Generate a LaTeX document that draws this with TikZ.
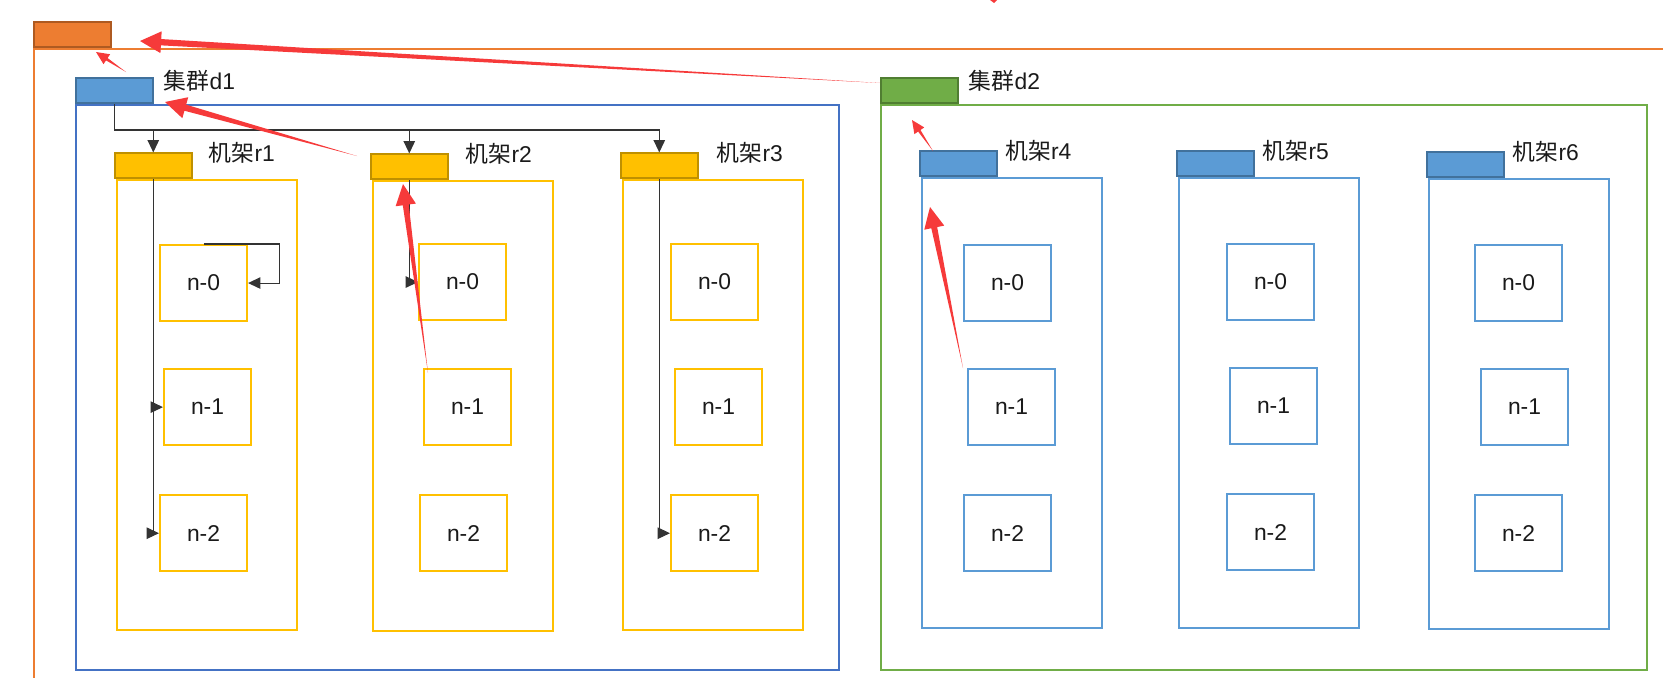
\documentclass[tikz,border=0pt]{standalone}
\usepackage{fontspec}
\setmainfont{Liberation Sans}
\newfontfamily\cjk{Noto Sans CJK SC}
\usetikzlibrary{arrows.meta,positioning,calc}

\definecolor{txt}{HTML}{1A1A1A}
\definecolor{orgfill}{HTML}{ED7D31}
\definecolor{orgdark}{HTML}{AE5A21}
\definecolor{bluefill}{HTML}{5B9BD5}
\definecolor{bluedark}{HTML}{41719C}
\definecolor{dline}{HTML}{4472C4}
\definecolor{yelfill}{HTML}{FFC000}
\definecolor{yeldark}{HTML}{BF9000}
\definecolor{grnfill}{HTML}{70AD47}
\definecolor{grndark}{HTML}{507E32}
\definecolor{annot}{RGB}{246,58,58}

% tapered red pointer: tail, tip, head length, head half width, shaft half width
\newcommand{\redarrow}[5]{%
  \coordinate (hb) at ($(#2)!#3!(#1)$);
  \fill[annot] (#1) -- ($(hb)!#5!90:(#2)$) -- ($(hb)!#4!90:(#2)$) -- (#2)
    -- ($(hb)!#4!-90:(#2)$) -- ($(hb)!#5!-90:(#2)$) -- cycle;}

\begin{document}
\begin{tikzpicture}[x=0.02cm,y=-0.02cm,
  font=\fontsize{13}{15}\selectfont,
  tab/.style={draw,line width=0.9pt,minimum width=1.54cm,minimum height=0.5cm,
              inner sep=0pt,anchor=south west},
  clusbox/.style={draw=#1,line width=1.2pt,minimum height=11.3cm,
                  inner sep=0pt,anchor=north west},
  rackbox/.style={draw=#1,line width=1.2pt,minimum width=3.6cm,minimum height=9cm,
                  inner sep=0pt,anchor=north west},
  srv/.style={draw=#1,line width=1.2pt,minimum width=1.74cm,minimum height=1.52cm,
              inner sep=0pt,text=txt},
  lab/.style={inner sep=0pt,text=txt},
  flow/.style={draw=black!80,line width=0.6pt,-{Triangle[length=7pt,width=6.5pt]}}
]
\clip (0,0) rectangle (1663,677);

% root
\node[draw=orgfill,line width=1.2pt,minimum width=33cm,minimum height=13cm,
      inner sep=0pt,anchor=north west] (root) at (33,48) {};
\node[tab,fill=orgfill,draw=orgdark] (roottab) at (root.north west) {};

% cluster d1
\node[clusbox=dline,minimum width=15.26cm] (d1box) at (75,104) {};
\node[tab,fill=bluefill,draw=bluedark] (d1tab) at (d1box.north west) {};
\node[lab,right=0.2cm of d1tab.north east,yshift=-0.06cm] (d1lab) {{\cjk 集群}d1};

\node[rackbox=yelfill] (r1box) at (116,179) {};
\node[tab,fill=yelfill,draw=yeldark] (r1tab) at ([xshift=-0.04cm]r1box.north west) {};
\node[lab,right=0.32cm of r1tab.north east] (r1lab) {{\cjk 机架}r1};
\node[srv=yelfill,below right=1.3cm and 0.86cm of r1box.north west] (r1n0) {n-0};
\node[srv=yelfill,below=0.92cm of r1n0,xshift=0.08cm] (r1n1) {n-1};
\node[srv=yelfill,below=0.96cm of r1n1,xshift=-0.08cm] (r1n2) {n-2};

\node[rackbox=yelfill] (r2box) at (372,180) {};
\node[tab,fill=yelfill,draw=yeldark] (r2tab) at ([xshift=-0.04cm]r2box.north west) {};
\node[lab,right=0.34cm of r2tab.north east] (r2lab) {{\cjk 机架}r2};
\node[srv=yelfill,below right=1.26cm and 0.92cm of r2box.north west] (r2n0) {n-0};
\node[srv=yelfill,below=0.94cm of r2n0,xshift=0.1cm] (r2n1) {n-1};
\node[srv=yelfill,below=0.96cm of r2n1,xshift=-0.08cm] (r2n2) {n-2};

\node[rackbox=yelfill] (r3box) at (622,179) {};
\node[tab,fill=yelfill,draw=yeldark] (r3tab) at ([xshift=-0.04cm]r3box.north west) {};
\node[lab,right=0.36cm of r3tab.north east] (r3lab) {{\cjk 机架}r3};
\node[srv=yelfill,below right=1.28cm and 0.96cm of r3box.north west] (r3n0) {n-0};
\node[srv=yelfill,below=0.94cm of r3n0,xshift=0.08cm] (r3n1) {n-1};
\node[srv=yelfill,below=0.96cm of r3n1,xshift=-0.08cm] (r3n2) {n-2};

% cluster d2
\node[clusbox=grnfill,minimum width=15.32cm] (d2box) at (880,104) {};
\node[tab,fill=grnfill,draw=grndark] (d2tab) at (d2box.north west) {};
\node[lab,right=0.2cm of d2tab.north east,yshift=-0.06cm] (d2lab) {{\cjk 集群}d2};

\node[rackbox=bluefill] (r4box) at (921,177) {};
\node[tab,fill=bluefill,draw=bluedark] (r4tab) at ([xshift=-0.04cm]r4box.north west) {};
\node[lab,right=0.15cm of r4tab.north east] (r4lab) {{\cjk 机架}r4};
\node[srv=bluefill,below right=1.34cm and 0.84cm of r4box.north west] (r4n0) {n-0};
\node[srv=bluefill,below=0.92cm of r4n0,xshift=0.08cm] (r4n1) {n-1};
\node[srv=bluefill,below=0.96cm of r4n1,xshift=-0.08cm] (r4n2) {n-2};

\node[rackbox=bluefill] (r5box) at (1178,177) {};
\node[tab,fill=bluefill,draw=bluedark] (r5tab) at ([xshift=-0.04cm]r5box.north west) {};
\node[lab,right=0.16cm of r5tab.north east] (r5lab) {{\cjk 机架}r5};
\node[srv=bluefill,below right=1.32cm and 0.96cm of r5box.north west] (r5n0) {n-0};
\node[srv=bluefill,below=0.92cm of r5n0,xshift=0.06cm] (r5n1) {n-1};
\node[srv=bluefill,below=0.96cm of r5n1,xshift=-0.06cm] (r5n2) {n-2};

\node[rackbox=bluefill] (r6box) at (1428,178) {};
\node[tab,fill=bluefill,draw=bluedark] (r6tab) at ([xshift=-0.04cm]r6box.north west) {};
\node[lab,right=0.16cm of r6tab.north east] (r6lab) {{\cjk 机架}r6};
\node[srv=bluefill,below right=1.32cm and 0.92cm of r6box.north west] (r6n0) {n-0};
\node[srv=bluefill,below=0.92cm of r6n0,xshift=0.12cm] (r6n1) {n-1};
\node[srv=bluefill,below=0.96cm of r6n1,xshift=-0.12cm] (r6n2) {n-2};

% d1 -> racks
\draw[flow] (d1tab.south) -- ++(0,26) coordinate (bus) -| (r3tab.north);
\draw[flow] (bus -| r1tab.north) -- (r1tab.north);
\draw[flow] (bus -| r2tab.north) -- (r2tab.north);

% racks -> nodes
\draw[flow] (r1tab.south) |- (r1n1.west);
\draw[flow] (r1tab.south) |- (r1n2.west);
\draw[flow] (r1n0.north) -- ++(76,0) |- (r1n0.east);
\draw[flow] (r2tab.south) |- (r2n0.west);
\draw[flow] (r3tab.south) |- (r3n2.west);

% red pointers
\coordinate (p1a) at (880,83);  \coordinate (p1b) at (140,41);
\coordinate (p2a) at (126,72);  \coordinate (p2b) at (96,52);
\coordinate (p3a) at (357,156); \coordinate (p3b) at (165,102);
\coordinate (p4a) at (428,373); \coordinate (p4b) at (403,184);
\coordinate (p5a) at (933,151); \coordinate (p5b) at (912,120);
\coordinate (p6a) at (963,368); \coordinate (p6b) at (930,207);
\redarrow{p1a}{p1b}{12pt}{6.2pt}{1.8pt}
\redarrow{p2a}{p2b}{7.4pt}{3.4pt}{0.8pt}
\redarrow{p3a}{p3b}{12pt}{6.2pt}{1.8pt}
\redarrow{p4a}{p4b}{12pt}{5.8pt}{1.7pt}
\redarrow{p5a}{p5b}{7.4pt}{3.4pt}{0.8pt}
\redarrow{p6a}{p6b}{12pt}{5.8pt}{1.7pt}
\fill[annot] (990,0) -- (997,0) -- (994,3) -- cycle;
\end{tikzpicture}
\end{document}
